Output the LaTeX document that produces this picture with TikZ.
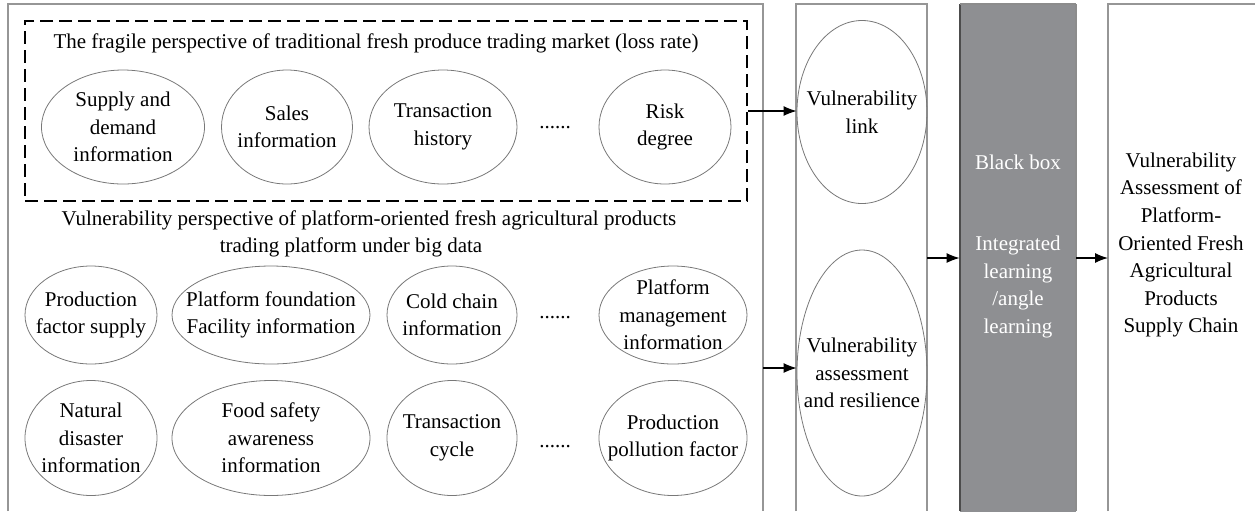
\documentclass[tikz,border=0pt]{standalone}
\usepackage{fontspec}
\setmainfont{Liberation Serif}
\usetikzlibrary{shapes.geometric,arrows.meta,fit}
\definecolor{boxgray}{RGB}{142,143,146}
\definecolor{linegray}{RGB}{150,150,150}
\definecolor{ellgray}{RGB}{120,120,120}
\tikzset{
  ell/.style={ellipse, draw=ellgray, line width=0.4pt, inner sep=0pt},
  txt/.style={align=center, inner sep=0pt},
  frame/.style={draw=linegray, line width=0.6pt},
  arr/.style={-{Latex[length=6.5pt,width=5pt]}, line width=0.6pt, black},
  dots/.style={inner sep=0pt},
}
\begin{document}
\begin{tikzpicture}[x=0.5pt,y=-0.5pt,font=\fontsize{10.5pt}{13.8pt}\selectfont]
\useasboundingbox (0,0) rectangle (1255,511);
% frames
\draw[frame] (8,511) -- (8,4) -- (763,4) -- (763,511);
\draw[frame] (796,511) -- (796,4) -- (927,4) -- (927,511);
\node[fit={(960,4) (1076,520)}, inner sep=0pt, fill=boxgray] (bb) {};
\draw[line width=0.9pt, black!70] (960,4) -- (960,511);
\draw[line width=0.6pt, black!45] (1076,4) -- (1076,511);
\draw[line width=0.6pt, black!45] (960,4) -- (1076,4);
\draw[frame] (1108,511) -- (1108,4) -- (1255,4);

% dashed box
\node[fit={(25,21) (747,201)}, inner sep=0pt, draw, line width=1pt, dash pattern=on 6.5pt off 3pt] (trad) {};
\node[txt] (t1) at (376,43) {The fragile perspective of traditional fresh produce trading market (loss rate)};

\node[ell, minimum width=81.5pt, minimum height=57pt] (e1) at (123,127) {};
\node[txt] (e1t) at (e1) {Supply and\\demand\\information};
\node[ell, minimum width=65.5pt, minimum height=57pt] (e2) at (287,127) {};
\node[txt] (e2t) at (e2) {Sales\\information};
\node[ell, minimum width=74pt, minimum height=57pt] (e3) at (443,127) {};
\node[txt] (e3t) at (e3) {Transaction\\history};
\node[dots] (d1) at (555,128) {......};
\node[ell, minimum width=66pt, minimum height=57pt] (e4) at (665,127) {};
\node[txt] (e4t) at (e4) {Risk\\degree};

\node[txt] (t2) at (369,220) {Vulnerability perspective of platform-oriented fresh agricultural products};
\node[txt] (t3) at (351,247) {trading platform under big data};

\node[ell, minimum width=66pt, minimum height=49pt] (f1) at (91,315) {};
\node[txt] (f1t) at (f1) {Production\\factor supply};
\node[ell, minimum width=99pt, minimum height=49pt] (f2) at (271,315) {};
\node[txt] (f2t) at (f2) {Platform foundation\\Facility information};
\node[ell, minimum width=65pt, minimum height=49pt] (f3) at (452,315) {};
\node[txt] (f3t) at (f3) {Cold chain\\information};
\node[dots] (d2) at (555,318) {......};
\node[ell, minimum width=74pt, minimum height=49pt] (f4) at (673,315) {};
\node[txt] (f4t) at (f4) {Platform\\management\\information};

\node[ell, minimum width=66pt, minimum height=57.5pt] (g1) at (91,438) {};
\node[txt] (g1t) at (g1) {Natural\\disaster\\information};
\node[ell, minimum width=99pt, minimum height=57.5pt] (g2) at (271,438) {};
\node[txt] (g2t) at (g2) {Food safety\\awareness\\information};
\node[ell, minimum width=65pt, minimum height=57.5pt] (g3) at (452,438) {};
\node[txt] (g3t) at (g3) {Transaction\\cycle};
\node[dots] (d3) at (555,447) {......};
\node[ell, minimum width=74pt, minimum height=57.5pt] (g4) at (673,438) {};
\node[txt] (g4t) at (g4) {Production\\pollution factor};

% column 2
\node[ell, minimum width=65pt, minimum height=91.5pt] (link) at (862,112) {};
\node[txt] (linkt) at (link) {Vulnerability\\link};
\node[ell, minimum width=65pt, minimum height=123pt] (assess) at (862,373) {};
\node[txt] (assesst) at (assess) {Vulnerability\\assessment\\and resilience};

% black box texts
\node[txt, text=white] (bbt) at (1018,162) {Black box};
\node[txt, text=white] (bbl) at (1018,287) {Integrated\\learning\\/angle\\learning};

% right box text
\node[txt] (res) at (1181,245) {Vulnerability\\Assessment of\\Platform-\\Oriented Fresh\\Agricultural\\Products\\Supply Chain};

% connectors
\coordinate (m1) at (763,368);
\coordinate (c2) at (927,258);
\coordinate (rb) at (1108,258);
\draw[arr] (trad.east) -- (trad.east -| link.west);
\draw[arr] (m1) -- (m1 -| assess.west);
\draw[arr] (c2) -- (c2 -| bb.west);
\draw[arr] (c2 -| bb.east) -- (rb);
\end{tikzpicture}
\end{document}
